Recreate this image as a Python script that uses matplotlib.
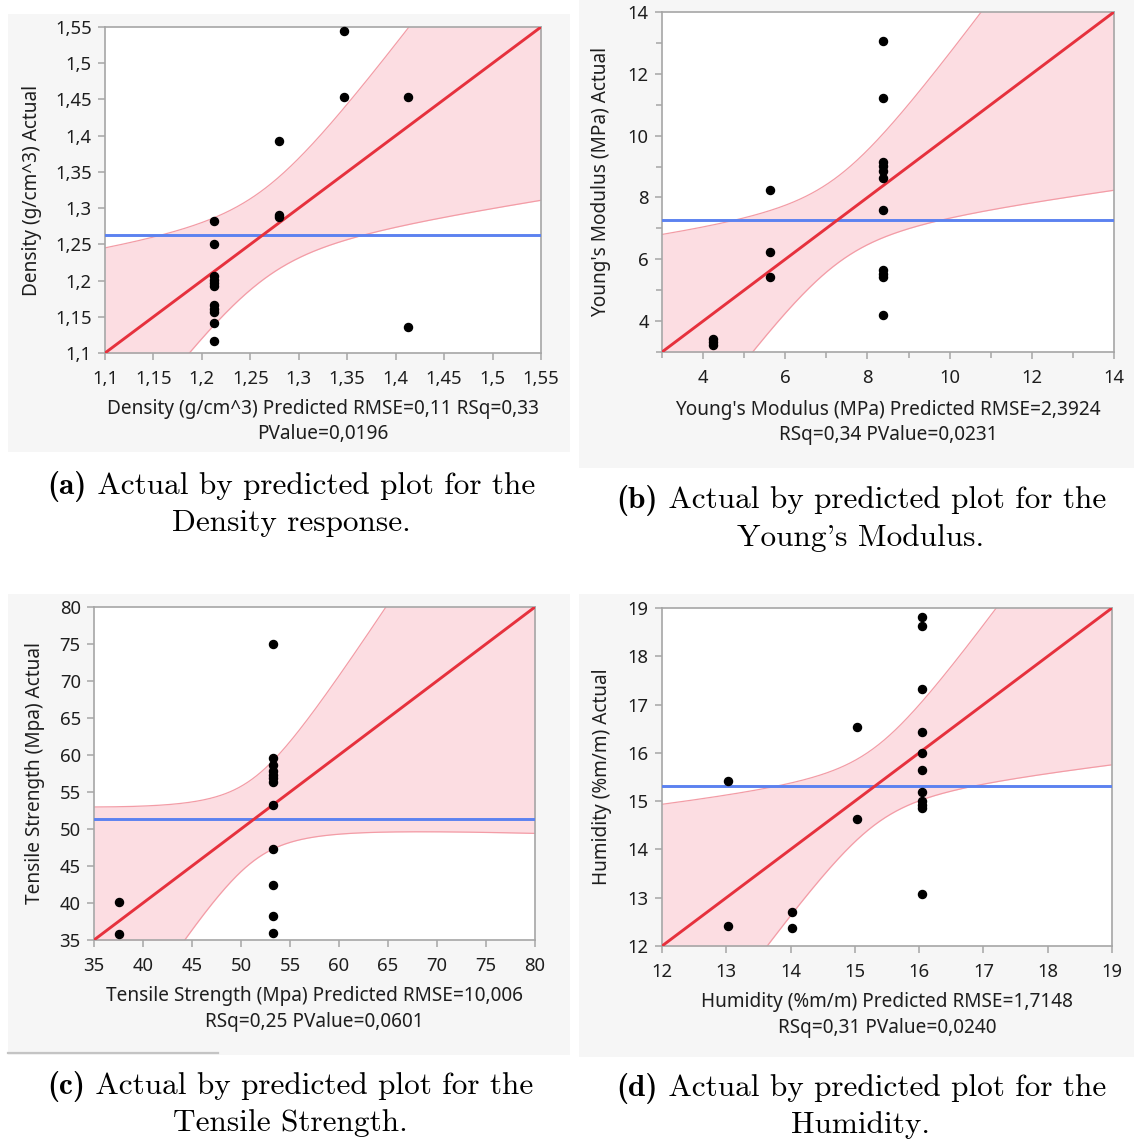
import matplotlib.pyplot as plt
import numpy as np
from matplotlib.lines import Line2D
from matplotlib.offsetbox import AnnotationBbox, HPacker, TextArea
from matplotlib.patches import Rectangle
from matplotlib.ticker import FuncFormatter, MultipleLocator

plt.rcParams['font.family'] = ['Noto Sans', 'DejaVu Sans']

W, H = 1134, 1141

# (a) Density (g/cm^3)
density_pred = [1.213, 1.213, 1.213, 1.213, 1.213, 1.213, 1.213, 1.213, 1.213, 1.213, 1.213,
                1.280, 1.280, 1.280, 1.347, 1.347, 1.413, 1.413]
density_act = [1.282, 1.250, 1.206, 1.201, 1.197, 1.193, 1.166, 1.161, 1.157, 1.142, 1.117,
               1.393, 1.290, 1.288, 1.545, 1.453, 1.453, 1.136]
density_mean = 1.263
density_band = (0.062, 0.805)   # half width at the mean, spread of the confidence curves

# (b) Young's Modulus (MPa)
modulus_pred = [4.23, 4.23, 4.23, 5.62, 5.62, 5.62,
                8.37, 8.37, 8.37, 8.37, 8.37, 8.37, 8.37, 8.37, 8.37, 8.37, 8.37]
modulus_act = [3.42, 3.32, 3.22, 8.24, 6.24, 5.43,
               13.07, 11.22, 9.15, 9.03, 8.85, 8.62, 7.61, 5.64, 5.53, 5.43, 4.21]
modulus_mean = 7.26
modulus_band = (1.4, 0.83)

# (c) Tensile Strength (Mpa)
tensile_pred = [37.55, 37.55,
                53.28, 53.28, 53.28, 53.28, 53.28, 53.28, 53.28, 53.28, 53.28, 53.28, 53.28, 53.28]
tensile_act = [40.1, 35.8,
               75.0, 59.6, 58.6, 57.8, 57.3, 56.9, 56.4, 53.3, 47.3, 42.5, 38.3, 35.9]
tensile_mean = 51.3
tensile_band = (5.6, 1.048)

# (d) Humidity (%m/m)
humidity_pred = [13.03, 13.03, 14.03, 14.03, 15.03, 15.03,
                 16.04, 16.04, 16.04, 16.04, 16.04, 16.04, 16.04, 16.04, 16.04, 16.04, 16.04]
humidity_act = [15.42, 12.41, 12.71, 12.38, 16.53, 14.62,
                18.82, 18.63, 17.32, 16.44, 16.00, 15.64, 15.18, 15.01, 14.93, 14.86, 13.08]
humidity_mean = 15.31
humidity_band = (0.8, 0.853)

BAND = '#fcdde2'
EDGE = '#f39ca6'
RED = '#e6313d'
BLUE = '#5c82f0'
SPINE = '#a6a6a6'
TXT = '#1e1e1e'
TICK_FS = 13.3
LABEL_FS = 13.7
CAP_FS = 22.5


def comma(v, pos):
    return f"{v:.2f}".rstrip('0').rstrip('.').replace('.', ',')


fig = plt.figure(figsize=(W / 100, H / 100), dpi=100)


def px_rect(left, top, right, bottom):
    return [left / W, 1 - bottom / H, (right - left) / W, (bottom - top) / H]


def background(left, top, right, bottom):
    x, y, w, h = px_rect(left, top, right, bottom)
    fig.add_artist(Rectangle((x, y), w, h, transform=fig.transFigure,
                             facecolor='#f6f6f6', edgecolor='none', zorder=0))


def panel(box, pred, act, mean, band, lims, major, minor, xlabel, ylabel, xlab_y, ylab_x):
    ax = fig.add_axes(px_rect(*box))
    lo, hi = lims
    a, b = band
    xs = np.linspace(lo, hi, 400)
    half = np.sqrt(a ** 2 + (b * (xs - mean)) ** 2)
    ax.fill_between(xs, xs - half, xs + half, color=BAND, lw=0, zorder=1)
    ax.plot(xs, xs + half, color=EDGE, lw=0.9, zorder=2)
    ax.plot(xs, xs - half, color=EDGE, lw=0.9, zorder=2)
    ax.axhline(mean, color=BLUE, lw=2.1, zorder=3)
    ax.plot(lims, lims, color=RED, lw=2.1, zorder=4)
    ax.plot(pred, act, 'o', color='black', ms=5.8, zorder=5, clip_on=False)

    ax.set_xlim(lims)
    ax.set_ylim(lims)
    for axis in (ax.xaxis, ax.yaxis):
        axis.set_major_locator(MultipleLocator(major))
        axis.set_major_formatter(FuncFormatter(comma))
        if minor:
            axis.set_minor_locator(MultipleLocator(minor))
    ax.tick_params(which='both', direction='out', color=SPINE, width=1.1,
                   labelsize=TICK_FS, labelcolor=TXT)
    ax.tick_params(axis='x', which='both', pad=7.5)
    ax.tick_params(axis='y', which='both', pad=4.5)
    ax.tick_params(which='major', length=5)
    ax.tick_params(which='minor', length=4)
    for s in ax.spines.values():
        s.set_color(SPINE)
        s.set_linewidth(1.2)

    ax.set_xlabel(xlabel, fontsize=LABEL_FS, color=TXT, linespacing=1.38)
    ax.xaxis.set_label_coords(0.5, xlab_y)
    ax.set_ylabel(ylabel, fontsize=LABEL_FS, color=TXT, va='center')
    ax.yaxis.set_label_coords(ylab_x, 0.5)
    return ax


def caption(cx, cy, tag, first, second, gap=37):
    parts = [TextArea(tag, textprops=dict(family='cmb10', fontsize=CAP_FS)),
             TextArea(' ' + first, textprops=dict(family='cmr10', fontsize=CAP_FS))]
    row = HPacker(children=parts, align='baseline', pad=0, sep=0)
    fig.add_artist(AnnotationBbox(row, (cx / W, 1 - cy / H), xycoords='figure fraction',
                                  frameon=False, box_alignment=(0.5, 0.5), pad=0))
    fig.text(cx / W, 1 - (cy + gap) / H, second, ha='center', va='center',
             fontsize=CAP_FS, family='cmr10', color='black')


background(8, 14, 570, 452)
background(579, 0, 1134, 468)
background(8, 594, 570, 1055)
background(579, 594, 1134, 1057)
fig.add_artist(Line2D([8 / W, 218 / W], [1 - 1052.5 / H] * 2, color='#c4c4c4', lw=1.6,
                      transform=fig.transFigure))

panel((105, 27, 541, 353), density_pred, density_act, density_mean, density_band,
      (1.1, 1.55), 0.05, None,
      'Density (g/cm^3) Predicted RMSE=0,11 RSq=0,33\nPValue=0,0196',
      'Density (g/cm^3) Actual', -0.14, -0.167)
panel((662, 12, 1114, 352), modulus_pred, modulus_act, modulus_mean, modulus_band,
      (3, 14), 2, 1,
      "Young's Modulus (MPa) Predicted RMSE=2,3924\nRSq=0,34 PValue=0,0231",
      "Young's Modulus (MPa) Actual", -0.14, -0.134)
panel((94, 607, 535, 940), tensile_pred, tensile_act, tensile_mean, tensile_band,
      (35, 80), 5, None,
      'Tensile Strength (Mpa) Predicted RMSE=10,006\nRSq=0,25 PValue=0,0601',
      'Tensile Strength (Mpa) Actual', -0.138, -0.134)
panel((662, 608, 1112, 946), humidity_pred, humidity_act, humidity_mean, humidity_band,
      (12, 19), 1, None,
      'Humidity (%m/m) Predicted RMSE=1,7148\nRSq=0,31 PValue=0,0240',
      'Humidity (%m/m) Actual', -0.137, -0.1325)

caption(291, 486, '(a)', 'Actual by predicted plot for the', 'Density response.')
caption(861, 501, '(b)', 'Actual by predicted plot for the', "Young's Modulus.")
caption(290, 1086, '(c)', 'Actual by predicted plot for the', 'Tensile Strength.')
caption(861, 1088, '(d)', 'Actual by predicted plot for the', 'Humidity.')

fig.savefig('out.png', dpi=100)
